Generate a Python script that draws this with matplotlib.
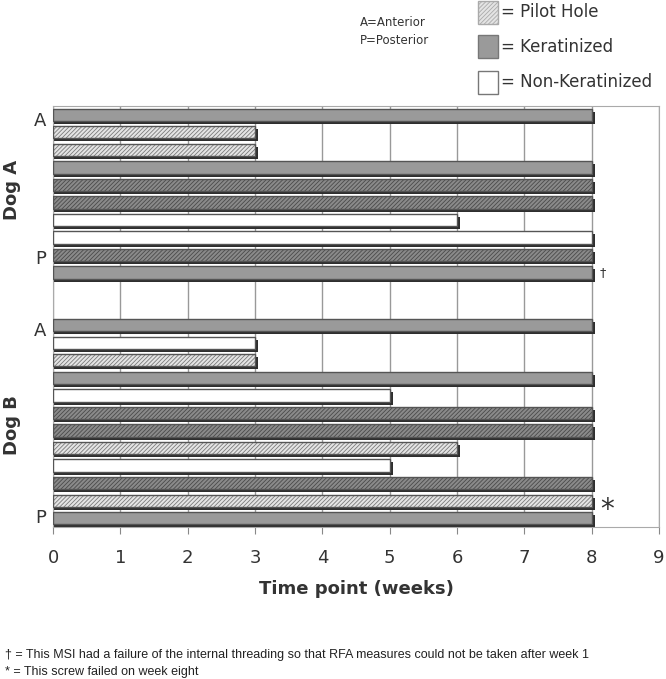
import matplotlib.pyplot as plt
from matplotlib.patches import Rectangle

# filas de arriba a abajo (P = pilot hole, K = keratinized, N = non-keratinized, D = oscuro rayado)
dog_a_weeks = [8, 3, 3, 8, 8, 8, 6, 8, 8, 8]
dog_a_type = ['K', 'P', 'P', 'K', 'D', 'D', 'N', 'N', 'D', 'K']
dog_b_weeks = [8, 3, 3, 8, 5, 8, 8, 6, 5, 8, 8, 8]
dog_b_type = ['K', 'N', 'P', 'K', 'N', 'D', 'D', 'P', 'N', 'D', 'P', 'K']
x_ticks = [0, 1, 2, 3, 4, 5, 6, 7, 8, 9]

estilos = {
    'K': dict(face='#9a9a9a', hatch=None, hcol=None),
    'P': dict(face='#e4e4e4', hatch='////////', hcol='#7a7a7a'),
    'N': dict(face='white', hatch=None, hcol=None),
    'D': dict(face='#8a8a8a', hatch='////////', hcol='#4a4a4a'),
}

weeks = dog_a_weeks + [None, None] + dog_b_weeks
types = dog_a_type + [None, None] + dog_b_type

plt.rcParams['hatch.linewidth'] = 0.6
fig = plt.figure(figsize=(6.66, 6.79), dpi=100)
ax = fig.add_axes([0.0796, 0.2239, 0.9099, 0.62])

h = 0.7
for i, (w, t) in enumerate(zip(weeks, types)):
    if w is None:
        continue
    s = estilos[t]
    # sombra
    ax.barh(i + 0.17, w + 0.045, height=h, color='#2e2e2e', zorder=2)
    if s['hatch']:
        ax.barh(i, w, height=h, facecolor=s['face'], edgecolor=s['hcol'],
                hatch=s['hatch'], linewidth=0, zorder=3)
        ax.barh(i, w, height=h, fill=False, edgecolor='#555555', linewidth=1, zorder=4)
    else:
        ax.barh(i, w, height=h, facecolor=s['face'], edgecolor='#555555', linewidth=1, zorder=3)

ax.set_xlim(0, 9)
ax.set_ylim(23.5, -0.5)
ax.set_xticks(x_ticks)
ax.set_xticklabels([str(v) for v in x_ticks], fontsize=13, color='#333333')
ax.set_yticks([])
ax.tick_params(axis='x', length=5, color='#888888', pad=11)
ax.grid(axis='x', color='#999999', linewidth=1, zorder=0)
for sp in ax.spines.values():
    sp.set_color('#aaaaaa')
ax.set_xlabel('Time point (weeks)', fontsize=13, fontweight='bold', color='#333333', labelpad=9)

# etiquetas A / P
ax.text(-0.1, 0.35, 'A', ha='right', va='center', fontsize=13, color='#333333')
ax.text(-0.1, 8.2, 'P', ha='right', va='center', fontsize=13, color='#333333')
ax.text(-0.1, 12.3, 'A', ha='right', va='center', fontsize=13, color='#333333')
ax.text(-0.1, 23.0, 'P', ha='right', va='center', fontsize=13, color='#333333')
fig.text(0.018, 0.72, 'Dog A', rotation=90, ha='center', va='center', fontsize=13, fontweight='bold', color='#333333')
fig.text(0.018, 0.374, 'Dog B', rotation=90, ha='center', va='center', fontsize=13, fontweight='bold', color='#333333')

# marcas
ax.text(8.12, 9, '\u2020', ha='left', va='center', fontsize=9, color='#333333')
ax.text(8.12, 22.55, '*', ha='left', va='center', fontsize=20, color='#333333')

# notas arriba
fig.text(0.541, 0.967, 'A=Anterior', fontsize=8.5, color='#333333', va='center')
fig.text(0.541, 0.940, 'P=Posterior', fontsize=8.5, color='#333333', va='center')

# leyenda
leg = [('P', '= Pilot Hole', 0.982), ('K', '= Keratinized', 0.931), ('N', '= Non-Keratinized', 0.879)]
for t, txt, yc in leg:
    s = estilos[t]
    r = Rectangle((0.717, yc - 0.017), 0.03, 0.034, transform=fig.transFigure,
                  facecolor=s['face'], edgecolor='#777777', linewidth=1,
                  hatch=s['hatch'])
    if s['hatch']:
        r.set_edgecolor('#aaaaaa')
    fig.add_artist(r)
    fig.text(0.752, yc, txt, fontsize=12, color='#333333', va='center')

# notas al pie
fig.text(0.008, 0.035, '\u2020 = This MSI had a failure of the internal threading so that RFA measures could not be taken after week 1',
         fontsize=9, family=['Liberation Sans Narrow', 'Liberation Sans'], color='#222222', va='center')
fig.text(0.008, 0.011, '* = This screw failed on week eight',
         fontsize=9, family=['Liberation Sans Narrow', 'Liberation Sans'], color='#222222', va='center')

fig.savefig('out.png', dpi=100)
